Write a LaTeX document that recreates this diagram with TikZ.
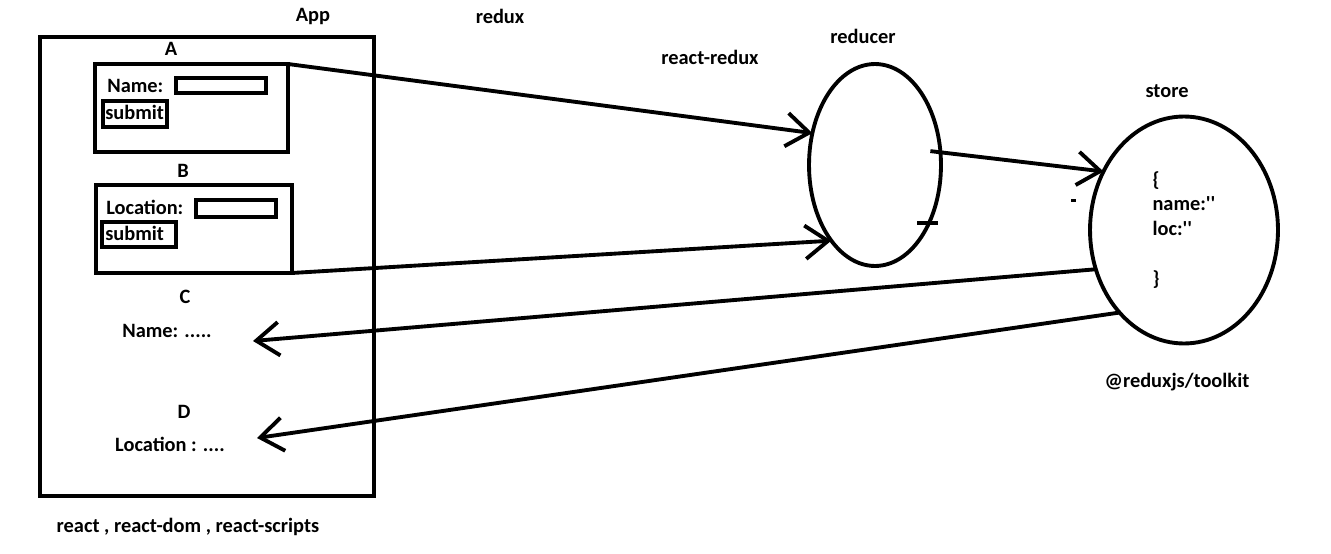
\documentclass[tikz,border=0pt]{standalone}
\usepackage{fontspec}
\setmainfont{Carlito}
\usetikzlibrary{arrows.meta, positioning, shapes.geometric}

\begin{document}
\begin{tikzpicture}[x=0.02cm, y=-0.02cm,
  lbl/.style={font=\fontsize{11.6}{14.2}\selectfont\bfseries, inner sep=0pt,
    text height=7.4pt, text depth=0pt},
  box/.style={draw, line width=2.2pt, inner sep=0pt, outer sep=0pt},
  blob/.style={ellipse, draw, line width=2.2pt, inner sep=0pt, outer sep=0pt},
  flow/.style={-{Straight Barb[length=13pt, width=19pt]}, line width=2.2pt}]
  \useasboundingbox (0,0) rectangle (1331,554);

  % App
  \draw[line width=2.2pt] (40,37) rectangle (374,496);
  \node[lbl] (app) at (313,15) {App};

  % Component A
  \node[lbl] (labA) at (171,49) {A};
  \node[box, minimum width=3.86cm, minimum height=1.76cm] (boxA) at (191.5,108) {};
  \node[lbl, anchor=west] (nameA) at (107,86) {Name:};
  \draw[line width=2.2pt] (176,78) rectangle (266,93);
  \draw[line width=2.2pt] (103,101) rectangle (167,127);
  \node[lbl, anchor=west] (submitA) at (105,113) {submit};

  % Component B
  \node[lbl] (labB) at (183,171) {B};
  \node[box, minimum width=3.92cm, minimum height=1.76cm] (boxB) at (194,229) {};
  \node[lbl, anchor=west] (locB) at (106,208) {Location:};
  \draw[line width=2.2pt] (196,200) rectangle (276,217);
  \draw[line width=2.2pt] (102,222) rectangle (176,247);
  \node[lbl, anchor=west] (submitB) at (105,234) {submit};

  % Component C and D
  \node[lbl] (labC) at (185,297) {C};
  \node[lbl] (nameC) at (167,331) {Name: .....};
  \node[lbl] (labD) at (184,412) {D};
  \node[lbl] (locD) at (170,445) {Location : ....};
  \coordinate (inC) at (253,341);
  \coordinate (inD) at (257,438);

  \node[lbl] (pkgs) at (188,526) {react , react-dom , react-scripts};
  \node[lbl] (redux) at (500,17) {redux};
  \node[lbl] (rredux) at (710,58) {react-redux};

  % Reducer
  \node[lbl] (reducerlab) at (863,37) {reducer};
  \node[blob, minimum width=2.64cm, minimum height=4.04cm] (reducer) at (875,165) {};

  % Store
  \node[lbl] (storelab) at (1167,91) {store};
  \node[blob, minimum width=3.76cm, minimum height=4.54cm, align=left,
    font=\fontsize{11.6}{14.2}\selectfont\bfseries] (store) at (1184,230)
    {\{\\name:\textquotesingle\textquotesingle\\loc:\textquotesingle\textquotesingle\\[14.2pt]\}};
  \node[lbl] (rtk) at (1177,381) {@reduxjs/toolkit};

  % Connectors
  \draw[flow] (boxA.north east) -- (reducer.153);
  \draw[flow] (boxB.south east) -- (reducer.240);
  \draw[flow] ([xshift=-0.2cm]reducer.12) -- (store.144);
  \draw[line width=2.2pt] ([xshift=-0.24cm]reducer.-47) -- ([xshift=0.18cm]reducer.-47);
  \fill (1071,199) rectangle (1076,202);
  \draw[flow] (store.204) -- (inC);
  \draw[flow] (store.232) -- (inD);
\end{tikzpicture}
\end{document}
